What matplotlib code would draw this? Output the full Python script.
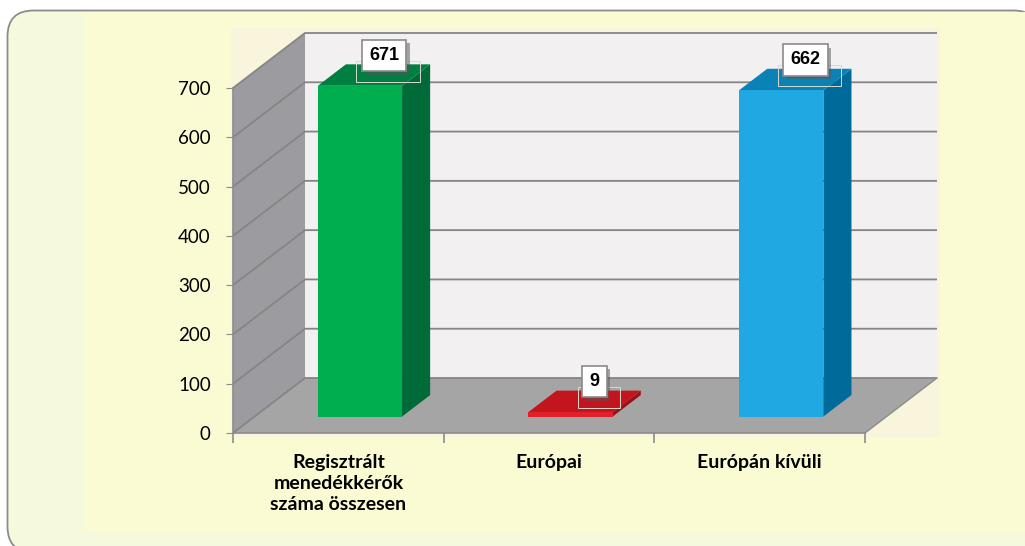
import matplotlib
matplotlib.use("Agg")
import matplotlib.pyplot as plt
import matplotlib.patheffects as pe
from matplotlib.patches import Polygon, Rectangle, FancyBboxPatch

categories = ["Regisztrált\nmenedékkérők\nszáma összesen", "Európai", "Európán kívüli"]
values = [671, 9, 662]
yticks = [0, 100, 200, 300, 400, 500, 600, 700]

front_colors = ["#00ae4f", "#e2202a", "#1fa8e2"]
side_colors = ["#006b38", "#9a1218", "#006a9a"]
top_colors = ["#007f40", "#c3151d", "#0b82b6"]

W, H = 1025, 546
fig = plt.figure(figsize=(W / 100, H / 100), dpi=100, facecolor="white")

# background panel (pixel coordinates)
bg = fig.add_axes([0, 0, 1, 1], zorder=-1)
bg.set_xlim(0, W)
bg.set_ylim(H, 0)
bg.axis("off")
bg.add_patch(FancyBboxPatch((7.5, 10.5), 1032, 542, boxstyle="round,pad=0,rounding_size=26",
                            facecolor="#f5fadc", edgecolor="#8c8c8c", lw=1.3))
bg.add_patch(Rectangle((84, 12), 945, 520, facecolor="#fafad3", edgecolor="none"))
bg.add_patch(Rectangle((231, 28), 709, 409, facecolor="#f8f5dc", edgecolor="none"))

# front plane of the 3d box
ax = fig.add_axes([233 / W, 1 - 433 / H, 632 / W, 345 / H])
ax.set_xlim(-0.5, 2.5)
ax.set_ylim(0, 700)
ax.patch.set_alpha(0)

# depth offset in data units (72 px right, 55 px up)
DX = 72 / (632 / 3)
DY = 55 / (345 / 700)


def P(x, y, d):
    return (x + d * DX, y + d * DY)


def poly(pts, fc, ec="none", lw=0, z=1):
    ax.add_patch(Polygon(pts, closed=True, facecolor=fc, edgecolor=ec, lw=lw,
                         clip_on=False, zorder=z))


x0, x1, ymax = -0.5, 2.5, 700
poly([P(x0, 0, 1), P(x1, 0, 1), P(x1, ymax, 1), P(x0, ymax, 1)], "#f2f0f1")
poly([P(x0, 0, 0), P(x0, 0, 1), P(x0, ymax, 1), P(x0, ymax, 0)], "#9c9ca0")
poly([P(x0, 0, 0), P(x1, 0, 0), P(x1, 0, 1), P(x0, 0, 1)], "#a5a5a5")

for v in yticks:
    a, b, c = P(x0, v, 0), P(x0, v, 1), P(x1, v, 1)
    ax.plot([a[0], b[0], c[0]], [a[1], b[1], c[1]], color="#858585", lw=1.3,
            clip_on=False, zorder=1.5, solid_capstyle="butt")
a, b = P(x1, 0, 0), P(x1, 0, 1)
ax.plot([a[0], b[0]], [a[1], b[1]], color="#8c8c8c", lw=1.0, clip_on=False, zorder=1.5)

# bars
bw, f, bk = 0.4, 0.3, 0.69
for i, v in enumerate(values):
    l, r = i - bw / 2, i + bw / 2
    poly([P(r, 0, f), P(r, 0, bk), P(r, v, bk), P(r, v, f)], side_colors[i], z=2)
    poly([P(l, v, f), P(r, v, f), P(r, v, bk), P(l, v, bk)], top_colors[i], z=2)
    poly([P(l, 0, f), P(r, 0, f), P(r, v, f), P(l, v, f)], front_colors[i], z=2)

    # faint frame left behind the label
    hw = 0.15 if len(str(v)) > 1 else 0.1
    cx = i + bk * DX
    ax.add_patch(Rectangle((cx - hw, v + 0.37 * DY), 2 * hw, 0.38 * DY, fc="none",
                           ec="#d9d9d0", lw=0.7, clip_on=False, zorder=3))

    lx, ly = P(i, v, bk)
    t = ax.annotate(str(v), (lx, ly), xytext=(-4, 9), textcoords="offset pixels",
                    ha="center", va="center", fontsize=13, fontweight="bold", color="black",
                    family="Liberation Sans", zorder=4, annotation_clip=False,
                    bbox=dict(boxstyle="square,pad=0.4", fc="white", ec="#8a8a8a", lw=1.2))
    t.get_bbox_patch().set_path_effects([
        pe.SimplePatchShadow(offset=(2.5, -2.5), shadow_rgbFace="#555555", alpha=0.5),
        pe.Normal()])

# axes lines and ticks
for s in ["top", "right"]:
    ax.spines[s].set_visible(False)
for s in ["left", "bottom"]:
    ax.spines[s].set_color("#8c8c8c")
    ax.spines[s].set_linewidth(1.2)
    ax.spines[s].set_zorder(2.5)

ax.set_yticks(yticks)
ax.set_yticklabels([str(t) for t in yticks], fontsize=13.5, family="Lato", color="black")
ax.tick_params(axis="y", length=5, color="#8c8c8c", pad=11)
ax.set_xticks(range(len(categories)))
ax.set_xticklabels(categories, fontsize=14, family="Lato", fontweight="bold",
                   linespacing=1.3, va="top")
ax.tick_params(axis="x", length=0, pad=15)
ax.set_xticks([-0.5, 0.5, 1.5, 2.5], minor=True)
ax.tick_params(axis="x", which="minor", length=7, color="#8c8c8c", width=1.2)

fig.savefig("out.png", dpi=100, facecolor="white")
